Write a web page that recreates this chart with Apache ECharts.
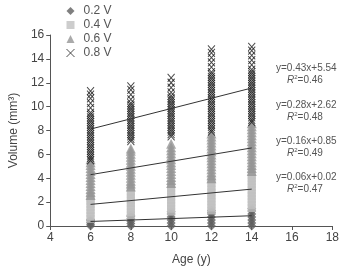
<!DOCTYPE html>
<html>
<head>
<meta charset="utf-8">
<script src="https://cdn.jsdelivr.net/npm/echarts@6/dist/echarts.min.js"></script>
<style>
  html, body { margin: 0; padding: 0; background: #fff; }
  #chart { width: 342px; height: 271px; }
</style>
</head>
<body>
<div id="chart"></div>
<script>
// ages of each column
var ages = [6, 8, 10, 12, 14];

// volumes, one list per age column
var v02 = [
  [0, 0.15, 0.3, 0.45, 0.55],
  [0, 0.2, 0.4, 0.6, 0.8, 0.9],
  [0, 0.25, 0.5, 0.75, 1.0, 1.2],
  [0, 0.25, 0.5, 0.75, 1.0, 1.15, 1.3],
  [0, 0.25, 0.5, 0.75, 1.0, 1.25, 1.45]
];
var v04 = [
  [0.6, 0.85, 1.1, 1.35, 1.6, 1.85, 2.1, 2.3, 2.5],
  [0.9, 1.15, 1.4, 1.65, 1.9, 2.15, 2.4, 2.65, 2.9, 3.2],
  [1.2, 1.45, 1.7, 1.95, 2.2, 2.45, 2.7, 2.95, 3.2, 3.5],
  [1.3, 1.55, 1.8, 2.05, 2.3, 2.55, 2.8, 3.05, 3.3, 3.6, 3.9],
  [1.5, 1.75, 2.0, 2.25, 2.5, 2.75, 3.0, 3.25, 3.5, 3.75, 4.0, 4.25, 4.5]
];
var v06 = [
  [2.6, 2.85, 3.1, 3.35, 3.6, 3.85, 4.1, 4.35, 4.6, 4.85, 5.1, 5.35, 5.6],
  [3.3, 3.55, 3.8, 4.05, 4.3, 4.55, 4.8, 5.05, 5.3, 5.55, 5.8, 6.05, 6.3, 6.5],
  [3.6, 3.85, 4.1, 4.35, 4.6, 4.85, 5.1, 5.35, 5.6, 5.85, 6.1, 6.35, 6.6, 6.9],
  [4.0, 4.25, 4.5, 4.75, 5.0, 5.25, 5.5, 5.75, 6.0, 6.25, 6.5, 6.75, 7.0, 7.25, 7.5, 7.75],
  [4.6, 4.85, 5.1, 5.35, 5.6, 5.85, 6.1, 6.35, 6.6, 6.85, 7.1, 7.35, 7.6, 7.85, 8.1, 8.35, 8.6]
];
var v08 = [
  [5.5, 5.7, 5.9, 6.1, 6.3, 6.5, 6.7, 6.9, 7.1, 7.3, 7.5, 7.7, 7.9, 8.1, 8.3, 8.5, 8.7, 8.9, 9.1, 9.3, 9.5,
   9.9, 10.3, 10.7, 11.0, 11.3],
  [7.1, 7.3, 7.5, 7.7, 7.9, 8.1, 8.3, 8.5, 8.7, 8.9, 9.1, 9.3, 9.5, 9.7, 9.9, 10.1, 10.3,
   10.6, 11.0, 11.4, 11.7],
  [7.5, 7.7, 7.9, 8.1, 8.3, 8.5, 8.7, 8.9, 9.1, 9.3, 9.5, 9.7, 9.9, 10.1, 10.3, 10.5, 10.7, 10.9,
   11.2, 11.6, 12.0, 12.4],
  [7.9, 8.1, 8.3, 8.5, 8.7, 8.9, 9.1, 9.3, 9.5, 9.7, 9.9, 10.1, 10.3, 10.5, 10.7, 10.9, 11.1, 11.3,
   11.5, 11.7, 11.9, 12.1, 12.3, 12.5, 12.7, 12.9, 13.3, 13.7, 14.1, 14.5, 14.8],
  [8.7, 8.9, 9.1, 9.3, 9.5, 9.7, 9.9, 10.1, 10.3, 10.5, 10.7, 10.9, 11.1, 11.3, 11.5, 11.7, 11.9,
   12.1, 12.3, 12.5, 12.7, 12.9, 13.1, 13.5, 13.9, 14.3, 14.7, 15.0]
];

// fitted line end points (x = 6 and x = 14)
var fit02 = [[6, 0.38], [14, 0.86]];
var fit04 = [[6, 1.81], [14, 3.09]];
var fit06 = [[6, 4.30], [14, 6.54]];
var fit08 = [[6, 8.12], [14, 11.56]];

var equations = ['y=0.43x+5.54', 'y=0.28x+2.62', 'y=0.16x+0.85', 'y=0.06x+0.02'];
var rSquared = ['0.46', '0.48', '0.49', '0.47'];

function toPoints(cols) {
  var out = [];
  for (var i = 0; i < ages.length; i++) {
    for (var j = 0; j < cols[i].length; j++) {
      out.push([ages[i], cols[i][j]]);
    }
  }
  return out;
}

var crossPath = 'path://M0,0L10,10M10,0L0,10';

var annotations = [];
var eqY = [69, 106, 142, 178];
for (var k = 0; k < equations.length; k++) {
  annotations.push({
    type: 'text', left: 276, top: eqY[k] - 6,
    style: { text: equations[k], fill: '#555', font: '10px "Liberation Sans", Arial, sans-serif' }
  });
  annotations.push({
    type: 'text', left: 287, top: eqY[k] + 5,
    style: {
      text: '{i|R}{s|2}{n|=' + rSquared[k] + '}',
      rich: {
        i: { fill: '#555', fontSize: 10, fontStyle: 'italic', fontFamily: 'Liberation Sans' },
        s: { fill: '#555', fontSize: 6, verticalAlign: 'top', padding: [0, 0, 6, 0], fontFamily: 'Liberation Sans' },
        n: { fill: '#555', fontSize: 10, fontFamily: 'Liberation Sans' }
      }
    }
  });
}

var lineStyle = { color: '#333', width: 1 };

var chart = echarts.init(document.getElementById('chart'));
chart.setOption({
  animation: false,
  textStyle: { fontFamily: '"Liberation Sans", Arial, sans-serif' },
  grid: { left: 46, right: 7, top: 35, bottom: 38 },
  legend: {
    orient: 'vertical',
    left: 61,
    top: 0,
    itemGap: 2,
    itemWidth: 8,
    itemHeight: 8,
    textStyle: { fontSize: 12, color: '#555', padding: [0, 0, 0, 4] },
    data: [
      { name: '0.2 V' },
      { name: '0.4 V' },
      { name: '0.6 V' },
      { name: '0.8 V', itemStyle: { borderWidth: 1, borderColor: '#222' } }
    ]
  },
  xAxis: {
    type: 'value', min: 4, max: 18, interval: 2,
    name: 'Age (y)', nameLocation: 'middle', nameGap: 28,
    nameTextStyle: { fontSize: 12, color: '#444' },
    axisLine: { lineStyle: { color: '#555' } },
    axisTick: { show: true, length: 4, lineStyle: { color: '#555' } },
    axisLabel: { fontSize: 12, color: '#444', margin: 6 },
    splitLine: { show: false }
  },
  yAxis: {
    type: 'value', min: 0, max: 16, interval: 2,
    name: 'Volume (mm³)', nameLocation: 'middle', nameGap: 30, nameRotate: 90,
    nameTextStyle: { fontSize: 12, color: '#444' },
    axisLine: { show: true, lineStyle: { color: '#555' } },
    axisTick: { show: true, length: 4, lineStyle: { color: '#555' } },
    axisLabel: { fontSize: 12, color: '#444', margin: 6 },
    splitLine: { show: false }
  },
  graphic: annotations,
  series: [
    {
      name: '0.2 V', type: 'scatter', symbol: 'diamond', symbolSize: 9,
      itemStyle: { color: '#5f5f5f' }, data: toPoints(v02), z: 2
    },
    {
      name: '0.4 V', type: 'scatter', symbol: 'rect', symbolSize: 8,
      itemStyle: { color: '#c0c0c0' }, data: toPoints(v04), z: 2
    },
    {
      name: '0.6 V', type: 'scatter', symbol: 'triangle', symbolSize: 10,
      itemStyle: { color: '#959595' }, data: toPoints(v06), z: 2
    },
    {
      name: '0.8 V', type: 'scatter', symbol: crossPath, symbolSize: [7, 8],
      itemStyle: { color: 'rgba(0,0,0,0)', borderColor: '#1a1a1a', borderWidth: 1 },
      data: toPoints(v08), z: 3
    },
    { type: 'line', data: fit02, symbol: 'none', lineStyle: lineStyle, z: 5 },
    { type: 'line', data: fit04, symbol: 'none', lineStyle: lineStyle, z: 5 },
    { type: 'line', data: fit06, symbol: 'none', lineStyle: lineStyle, z: 5 },
    { type: 'line', data: fit08, symbol: 'none', lineStyle: lineStyle, z: 5 }
  ]
});
</script>
</body>
</html>
